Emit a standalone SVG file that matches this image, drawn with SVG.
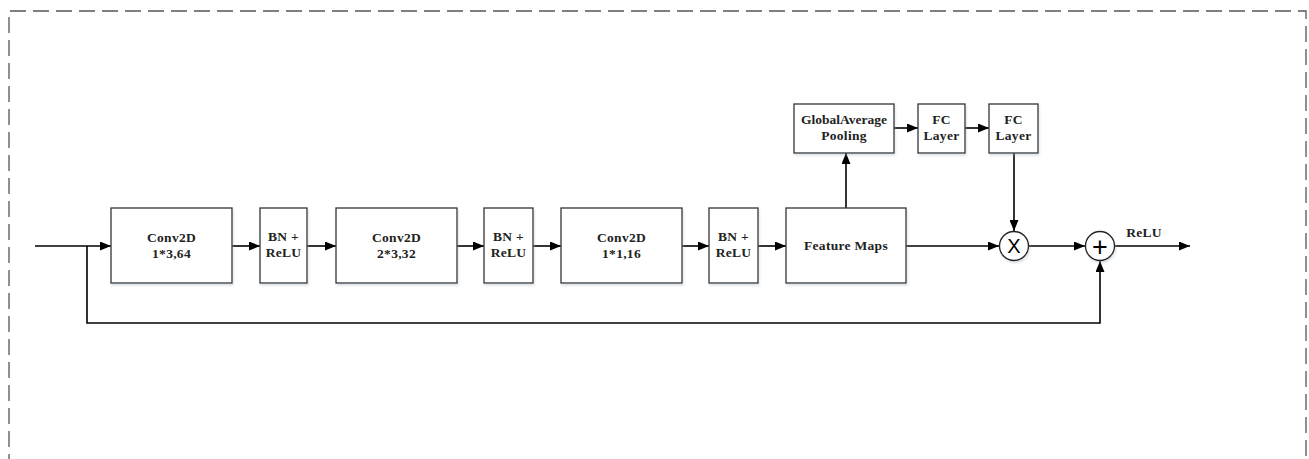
<svg xmlns="http://www.w3.org/2000/svg" width="1309" height="459" viewBox="0 0 1309 459">
<defs>
<marker id="ah" viewBox="0 0 11 9" refX="11" refY="4.5" markerWidth="11" markerHeight="9" markerUnits="userSpaceOnUse" orient="auto">
<path d="M0,0 L11,4.5 L0,9 z" fill="#000"/>
</marker>
<filter id="sh" x="-10%" y="-10%" width="130%" height="130%">
<feDropShadow dx="1" dy="2" stdDeviation="1" flood-color="#9ab" flood-opacity="0.35"/>
</filter>
</defs>
<style>
.box{fill:#fff;stroke:#333;stroke-width:1.3;filter:url(#sh)}
.t{font-family:"Liberation Serif","Times New Roman",serif;font-weight:bold;font-size:13.5px;fill:#222;text-anchor:middle;letter-spacing:0.3px}
.c{fill:none;stroke:#000;stroke-width:1.6}
.op{fill:#fff;stroke:#222;stroke-width:1.3;filter:url(#sh)}
.sym{font-family:"Liberation Sans",Arial,sans-serif;font-size:20px;fill:#000;text-anchor:middle}
.plus{font-family:"Liberation Sans",Arial,sans-serif;font-size:27px;fill:#000;text-anchor:middle}
</style>
<rect width="1309" height="459" fill="#fff"/>
<path d="M9,470 L9,11 L1306,11 L1306,470" fill="none" stroke="#555" stroke-width="1.3" stroke-dasharray="16,7"/>
<g id="connectors">
<path class="c" d="M35,246 L111,246" marker-end="url(#ah)"/>
<path class="c" d="M87,246 L87,323 L1100,323 L1100,261" marker-end="url(#ah)"/>
<path class="c" d="M232,246 L260,246" marker-end="url(#ah)"/>
<path class="c" d="M307,246 L336,246" marker-end="url(#ah)"/>
<path class="c" d="M457,246 L484,246" marker-end="url(#ah)"/>
<path class="c" d="M533,246 L561,246" marker-end="url(#ah)"/>
<path class="c" d="M682,246 L709,246" marker-end="url(#ah)"/>
<path class="c" d="M758,246 L786,246" marker-end="url(#ah)"/>
<path class="c" d="M846,208 L846,153" marker-end="url(#ah)"/>
<path class="c" d="M894,128 L918,128" marker-end="url(#ah)"/>
<path class="c" d="M965,128 L989,128" marker-end="url(#ah)"/>
<path class="c" d="M1014,153 L1014,231" marker-end="url(#ah)"/>
<path class="c" d="M906,246 L999,246" marker-end="url(#ah)"/>
<path class="c" d="M1029,246 L1085,246" marker-end="url(#ah)"/>
<path class="c" d="M1115,246 L1190,246" marker-end="url(#ah)"/>
</g>
<g id="conv1"><rect class="box" x="111" y="208" width="121" height="75"/><text class="t" x="171.5" y="242">Conv2D</text><text class="t" x="171.5" y="258">1*3,64</text></g>
<g id="bn1"><rect class="box" x="260" y="208" width="47" height="75"/><text class="t" x="283.5" y="241">BN +</text><text class="t" x="283.5" y="257">ReLU</text></g>
<g id="conv2"><rect class="box" x="336" y="208" width="121" height="75"/><text class="t" x="396.5" y="242">Conv2D</text><text class="t" x="396.5" y="258">2*3,32</text></g>
<g id="bn2"><rect class="box" x="484" y="208" width="49" height="75"/><text class="t" x="508.5" y="241">BN +</text><text class="t" x="508.5" y="257">ReLU</text></g>
<g id="conv3"><rect class="box" x="561" y="208" width="121" height="75"/><text class="t" x="621.5" y="242">Conv2D</text><text class="t" x="621.5" y="258">1*1,16</text></g>
<g id="bn3"><rect class="box" x="709" y="208" width="49" height="75"/><text class="t" x="733.5" y="241">BN +</text><text class="t" x="733.5" y="257">ReLU</text></g>
<g id="featuremaps"><rect class="box" x="786" y="208" width="120" height="75"/><text class="t" x="846" y="250">Feature Maps</text></g>
<g id="gap"><rect class="box" x="794" y="104" width="100" height="49"/><text class="t" x="844" y="124" style="letter-spacing:0">GlobalAverage</text><text class="t" x="844" y="140">Pooling</text></g>
<g id="fc1"><rect class="box" x="918" y="104" width="47" height="49"/><text class="t" x="941.5" y="124">FC</text><text class="t" x="941.5" y="140">Layer</text></g>
<g id="fc2"><rect class="box" x="989" y="104" width="49" height="49"/><text class="t" x="1013.5" y="124">FC</text><text class="t" x="1013.5" y="140">Layer</text></g>
<g id="mult"><circle class="op" cx="1014" cy="246" r="14.5"/><text class="sym" x="1014" y="253">X</text></g>
<g id="add"><circle class="op" cx="1100" cy="246" r="14.5"/><text class="plus" x="1100" y="255.5">+</text></g>
<g id="relu-label"><text class="t" x="1144" y="237">ReLU</text></g>
</svg>
